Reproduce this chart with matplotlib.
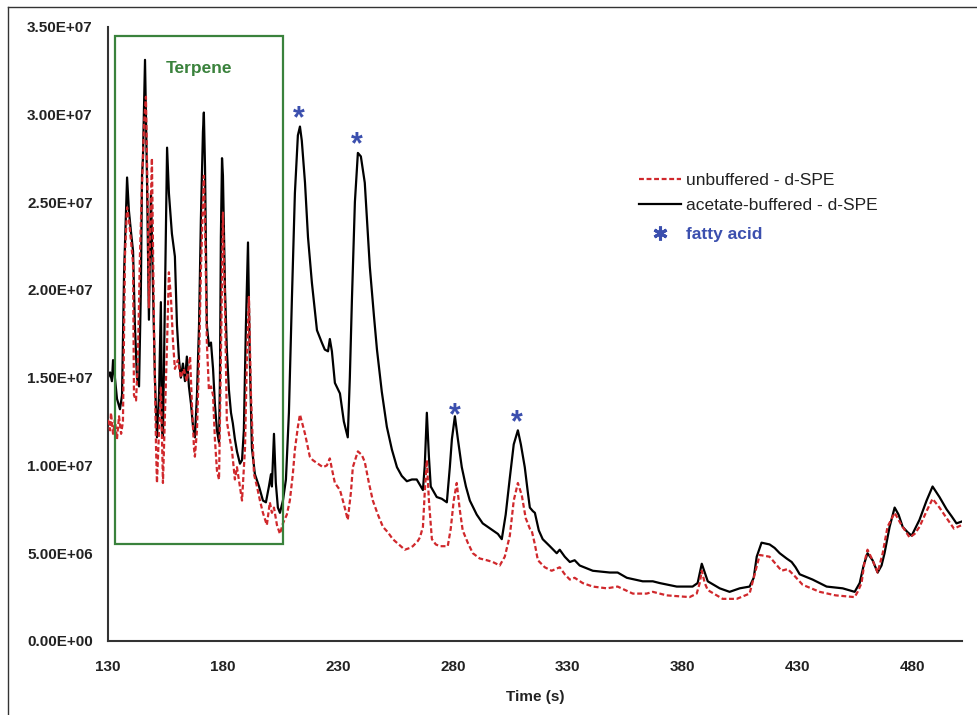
import numpy as np
import matplotlib
matplotlib.use("Agg")
import matplotlib.pyplot as plt
from matplotlib.lines import Line2D
from matplotlib.patches import Rectangle
from matplotlib.ticker import FuncFormatter

plt.rcParams['font.family'] = ['Liberation Sans', 'DejaVu Sans']

# ---------------- data (time in s, intensity in units of 1e7) ----------------
acetate_t = [130.0, 130.9, 131.7, 132.2, 133.0, 133.9, 135.2, 136.1, 137.0, 138.3, 139.1, 140.0,
             140.9, 141.7, 142.6, 143.5, 144.3, 144.8, 145.2, 146.1, 147.0, 147.8, 148.7, 149.6,
             150.4, 151.3, 152.2, 153.0, 153.5, 153.9, 154.8, 155.7, 156.5, 157.8, 159.1, 160.0,
             160.9, 161.7, 162.6, 163.5, 164.3, 165.2, 166.1, 167.0, 167.8, 168.7, 169.6, 170.4,
             171.3, 171.7, 172.2, 173.0, 173.9, 174.8, 175.7, 176.5, 177.4, 178.3, 178.7, 179.1,
             179.6, 180.0, 180.9, 181.7, 182.6, 183.5, 184.3, 185.2, 186.1, 187.4, 188.3, 189.1,
             190.0, 190.9, 191.7, 192.6, 193.9, 195.7, 197.4, 198.7, 200.0, 200.9, 201.3, 202.2,
             203.0, 203.9, 204.8, 206.1, 207.4, 208.7, 210.0, 211.3, 212.6, 213.5, 214.3, 215.7,
             217.0, 218.7, 220.9, 223.0, 224.3, 225.7, 226.5, 227.4, 228.7, 230.9, 232.6, 234.3,
             235.2, 236.1, 237.4, 238.7, 240.0, 241.7, 243.9, 245.7, 247.0, 249.1, 251.3, 253.5,
             255.7, 257.8, 260.0, 262.2, 264.3, 266.1, 267.0, 267.8, 268.7, 269.6, 270.4, 273.0,
             275.2, 277.4, 278.7, 279.6, 280.9, 282.2, 283.9, 285.7, 287.4, 290.4, 293.0, 295.2,
             297.4, 299.6, 301.3, 303.0, 304.8, 306.5, 308.3, 309.6, 311.3, 312.6, 313.5, 314.8,
             315.7, 317.4, 319.1, 322.2, 325.2, 326.5, 328.7, 330.9, 333.0, 335.2, 340.9, 348.3,
             351.7, 355.7, 362.6, 367.0, 370.0, 377.4, 384.3, 386.5, 388.3, 389.6, 390.9, 396.1,
             400.4, 404.8, 409.1, 410.9, 412.2, 414.3, 417.8, 420.0, 422.2, 425.2, 427.4, 429.1,
             430.9, 436.5, 442.6, 449.6, 454.8, 457.0, 458.7, 460.4, 462.6, 464.8, 466.5, 467.8,
             470.0, 472.2, 473.9, 475.7, 477.8, 479.6, 483.0, 486.1, 488.7, 491.7, 494.8, 497.0,
             499.1, 501.3]
acetate_v = [1.50, 1.53, 1.48, 1.60, 1.50, 1.38, 1.32, 1.40, 2.10, 2.64, 2.45, 2.33,
             2.22, 1.80, 1.50, 1.45, 2.00, 2.65, 2.75, 3.31, 2.60, 1.83, 2.55, 2.00,
             1.50, 1.16, 1.40, 1.93, 1.20, 1.16, 2.00, 2.81, 2.55, 2.32, 2.19, 1.80,
             1.60, 1.50, 1.58, 1.48, 1.62, 1.45, 1.35, 1.22, 1.16, 1.40, 1.80, 2.40,
             2.90, 3.01, 2.70, 1.80, 1.68, 1.70, 1.55, 1.35, 1.20, 1.13, 1.50, 2.30,
             2.75, 2.65, 2.00, 1.66, 1.43, 1.30, 1.24, 1.15, 1.08, 1.01, 1.03, 1.20,
             1.80, 2.27, 1.60, 1.10, 0.95, 0.88, 0.80, 0.79, 0.88, 0.95, 0.88, 1.18,
             0.90, 0.76, 0.73, 0.80, 0.92, 1.30, 1.95, 2.55, 2.88, 2.93, 2.85, 2.61,
             2.30, 2.04, 1.77, 1.70, 1.66, 1.65, 1.72, 1.65, 1.47, 1.41, 1.25, 1.16,
             1.50, 1.94, 2.50, 2.78, 2.76, 2.61, 2.13, 1.85, 1.66, 1.42, 1.22, 1.09,
             0.99, 0.94, 0.91, 0.92, 0.92, 0.88, 0.86, 1.00, 1.30, 1.05, 0.88, 0.82,
             0.81, 0.79, 0.99, 1.15, 1.28, 1.15, 0.99, 0.88, 0.80, 0.72, 0.67, 0.65,
             0.63, 0.61, 0.58, 0.72, 0.93, 1.12, 1.20, 1.12, 0.99, 0.85, 0.76, 0.74,
             0.73, 0.63, 0.58, 0.54, 0.50, 0.52, 0.48, 0.45, 0.46, 0.43, 0.40, 0.39,
             0.39, 0.36, 0.34, 0.34, 0.33, 0.31, 0.31, 0.33, 0.44, 0.39, 0.34, 0.30,
             0.28, 0.30, 0.31, 0.36, 0.48, 0.56, 0.55, 0.53, 0.50, 0.47, 0.45, 0.42,
             0.38, 0.35, 0.31, 0.30, 0.28, 0.33, 0.43, 0.50, 0.46, 0.39, 0.43, 0.50,
             0.65, 0.76, 0.72, 0.65, 0.62, 0.60, 0.69, 0.80, 0.88, 0.82, 0.75, 0.71,
             0.67, 0.68]

unbuffered_t = [130.0, 130.9, 131.3, 132.2, 133.0, 133.9, 134.8, 135.7, 136.5, 137.4, 138.3, 139.1,
                140.0, 140.9, 141.3, 142.2, 143.0, 143.9, 144.8, 145.7, 146.5, 147.4, 147.8, 148.3,
                149.1, 150.0, 150.9, 151.3, 152.2, 153.0, 153.9, 154.8, 155.7, 156.5, 157.4, 158.3,
                159.1, 160.4, 161.7, 163.0, 164.3, 165.7, 166.5, 167.4, 167.8, 168.7, 169.6, 170.4,
                171.3, 171.7, 172.2, 173.0, 173.9, 174.8, 175.7, 176.5, 177.4, 178.3, 179.1, 180.0,
                180.9, 181.7, 183.0, 183.9, 185.2, 186.1, 187.4, 188.3, 189.6, 190.4, 191.3, 192.2,
                193.5, 194.8, 196.1, 197.4, 199.1, 200.4, 201.3, 202.2, 203.5, 204.8, 206.1, 207.8,
                209.1, 210.4, 211.3, 212.6, 213.5, 214.3, 215.7, 217.8, 219.1, 221.3, 223.5, 225.2,
                226.5, 227.4, 228.7, 230.9, 232.6, 234.3, 235.7, 236.5, 238.7, 240.4, 241.7, 243.5,
                245.2, 247.4, 249.6, 251.7, 253.9, 256.5, 259.1, 261.3, 262.6, 264.8, 265.7, 267.0,
                267.8, 268.7, 269.6, 270.9, 272.6, 274.3, 277.8, 279.1, 280.4, 281.7, 283.0, 284.3,
                286.5, 288.7, 291.7, 294.8, 297.4, 300.4, 302.6, 304.8, 306.5, 308.3, 310.0, 311.7,
                313.5, 314.3, 315.7, 317.0, 320.0, 323.0, 326.5, 328.7, 330.9, 333.0, 336.5, 340.9,
                347.0, 351.7, 358.3, 364.3, 367.0, 373.0, 383.0, 386.1, 387.4, 388.3, 389.6, 390.9,
                397.4, 403.5, 409.1, 411.3, 413.5, 417.8, 420.4, 423.0, 425.7, 428.7, 432.2, 439.6,
                446.5, 454.8, 456.1, 457.8, 459.1, 460.4, 462.6, 464.8, 467.0, 469.1, 472.2, 475.2,
                478.7, 480.9, 483.0, 486.1, 488.7, 491.7, 494.8, 498.0, 501.3]
unbuffered_v = [1.26, 1.20, 1.30, 1.18, 1.26, 1.15, 1.28, 1.18, 1.25, 2.20, 2.47, 2.40,
                2.28, 2.15, 1.40, 1.37, 1.60, 2.20, 2.60, 2.95, 3.10, 2.40, 1.90, 2.30,
                2.75, 1.80, 1.10, 0.90, 1.20, 1.45, 0.90, 1.30, 1.70, 2.10, 1.95, 1.70,
                1.55, 1.60, 1.50, 1.55, 1.48, 1.62, 1.35, 1.10, 1.05, 1.20, 1.60, 2.10,
                2.50, 2.65, 2.40, 1.70, 1.43, 1.45, 1.40, 1.15, 0.97, 0.92, 1.60, 2.44,
                1.90, 1.25, 1.15, 1.09, 0.92, 0.99, 0.88, 0.80, 1.10, 1.60, 1.96, 1.40,
                0.95, 0.88, 0.80, 0.73, 0.66, 0.79, 0.73, 0.76, 0.66, 0.61, 0.67, 0.72,
                0.80, 0.95, 1.09, 1.22, 1.29, 1.25, 1.18, 1.05, 1.03, 1.01, 0.99, 1.00,
                1.04, 0.98, 0.90, 0.86, 0.78, 0.69, 0.85, 0.99, 1.08, 1.06, 1.02, 0.90,
                0.80, 0.72, 0.65, 0.62, 0.58, 0.55, 0.52, 0.53, 0.54, 0.57, 0.59, 0.65,
                0.85, 1.03, 0.80, 0.58, 0.55, 0.54, 0.54, 0.64, 0.80, 0.90, 0.75, 0.63,
                0.56, 0.50, 0.47, 0.46, 0.45, 0.43, 0.48, 0.60, 0.80, 0.90, 0.83, 0.70,
                0.64, 0.63, 0.55, 0.46, 0.42, 0.40, 0.42, 0.38, 0.35, 0.36, 0.33, 0.31,
                0.30, 0.31, 0.27, 0.27, 0.28, 0.26, 0.25, 0.27, 0.33, 0.40, 0.33, 0.29,
                0.24, 0.24, 0.27, 0.38, 0.49, 0.48, 0.44, 0.40, 0.41, 0.37, 0.32, 0.28,
                0.26, 0.25, 0.28, 0.33, 0.45, 0.52, 0.46, 0.39, 0.50, 0.65, 0.73, 0.66,
                0.59, 0.61, 0.65, 0.74, 0.81, 0.76, 0.70, 0.64, 0.66]

fatty_acid_t = [213.5, 238.7, 281.3, 308.3]

terpene_t = [133.0, 206.0]
terpene_v = [0.552, 3.446]

x_ticks = [130, 180, 230, 280, 330, 380, 430, 480]
y_ticks = [0, 0.5, 1.0, 1.5, 2.0, 2.5, 3.0, 3.5]

SCALE = 1e7
RED = '#d0282c'
BLUE = '#3b4fae'
GREEN = '#3a823c'
TXT = '#222222'

fig = plt.figure(figsize=(9.78, 7.15), dpi=100)
ax = fig.add_axes([108/978, 1-641/715, (962-108)/978, (641-26.5)/715])

ax.plot(unbuffered_t, np.array(unbuffered_v)*SCALE, color=RED, lw=1.6,
        ls=(0, (2.2, 1.2)), label='unbuffered - d-SPE', zorder=3)
ax.plot(acetate_t, np.array(acetate_v)*SCALE, color='black', lw=1.6,
        label='acetate-buffered - d-SPE', zorder=2)

# terpene box
ax.add_patch(Rectangle((terpene_t[0], terpene_v[0]*SCALE), terpene_t[1]-terpene_t[0],
                       (terpene_v[1]-terpene_v[0])*SCALE, fill=False, edgecolor=GREEN,
                       lw=1.6, zorder=4))
ax.text(np.mean(terpene_t), 3.26*SCALE, 'Terpene', color=GREEN, fontsize=12.5,
        fontweight='bold', ha='center', va='center')

# fatty acid asterisks
fa_v = np.interp(fatty_acid_t, acetate_t, acetate_v) * SCALE
for t, v in zip(fatty_acid_t, fa_v):
    ax.annotate('*', xy=(t, v), xytext=(-1, -5.5), textcoords='offset points',
                ha='center', va='bottom', fontsize=22, fontweight='bold', color=BLUE)

ax.set_xlim(130, 501.5)
ax.set_ylim(0, 3.5*SCALE)
ax.set_xticks(x_ticks)
ax.set_yticks(np.array(y_ticks)*SCALE)
ax.yaxis.set_major_formatter(FuncFormatter(lambda v, p: '{:.2E}'.format(v)))
ax.tick_params(axis='both', length=0, labelsize=11)
ax.tick_params(axis='x', pad=13.5)
ax.tick_params(axis='y', pad=11)
for lab in ax.get_xticklabels() + ax.get_yticklabels():
    lab.set_fontweight('bold')
    lab.set_color(TXT)
for s in ['top', 'right']:
    ax.spines[s].set_visible(False)
for s in ['left', 'bottom']:
    ax.spines[s].set_color('#333333')
    ax.spines[s].set_linewidth(1.5)
ax.set_xlabel('Time (s)', fontsize=11, fontweight='bold', labelpad=11.5, color=TXT)

# legend for the two traces
lines = ax.get_lines()
leg1 = ax.legend(lines[:2], [l.get_label() for l in lines[:2]], loc='upper left',
                 bbox_to_anchor=(0.622, 0.762), frameon=False, fontsize=12.5,
                 handlelength=2.4, handletextpad=0.3, labelspacing=0.6,
                 borderpad=0, borderaxespad=0)
for tx in leg1.get_texts():
    tx.set_color(TXT)
ax.add_artist(leg1)

# legend entry for the fatty acid marker
star = Line2D([], [], color=BLUE, ls='none', marker=(6, 2, 0), markersize=10, mew=2.2)
leg2 = ax.legend([star], ['fatty acid'], loc='upper left',
                 bbox_to_anchor=(0.622, 0.674), frameon=False, fontsize=12.5,
                 handlelength=2.4, handletextpad=0.3, borderpad=0, borderaxespad=0)
leg2.get_texts()[0].set_color(BLUE)
leg2.get_texts()[0].set_fontweight('bold')

# outer frame lines
fig.add_artist(Line2D([8/978, 8/978], [0, 1-7/715], transform=fig.transFigure,
                      color='#333333', lw=1))
fig.add_artist(Line2D([8/978, 1], [1-7/715, 1-7/715], transform=fig.transFigure,
                      color='#333333', lw=1))

fig.savefig('out.png', dpi=100)
